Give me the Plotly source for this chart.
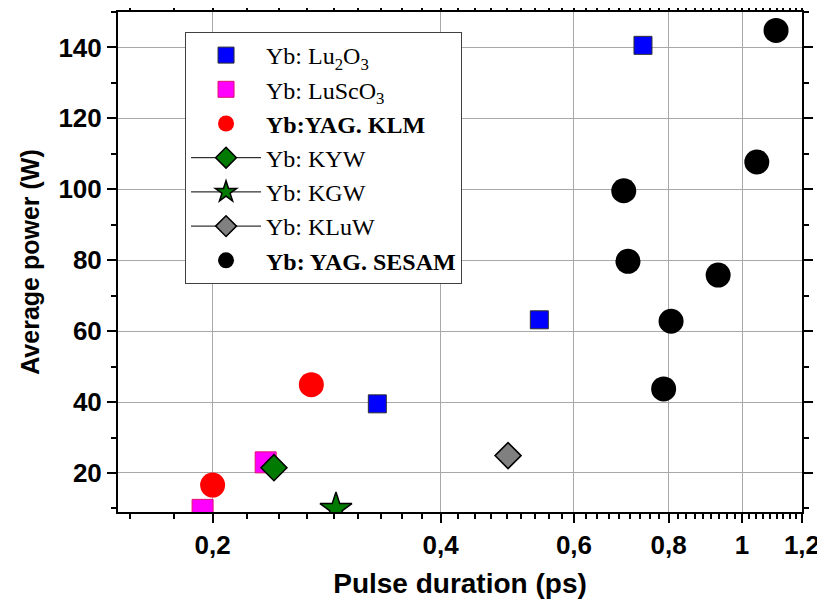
import plotly.graph_objects as go

# Data (pulse duration in ps, average power in W)
lu2o3_x = [0.33, 0.54, 0.74]
lu2o3_y = [39.5, 63.2, 140.6]

luscO3_x = [0.194, 0.235]
luscO3_y = [9.6, 23.0]

klm_x = [0.20, 0.27]
klm_y = [16.6, 44.9]

kyw_x = [0.241]
kyw_y = [21.5]

kgw_x = [0.291]
kgw_y = [9.9]

kluw_x = [0.491]
kluw_y = [24.9]

sesam_x = [0.698, 0.707, 0.788, 0.806, 0.93, 1.046, 1.109]
sesam_y = [99.6, 79.7, 43.7, 62.8, 75.8, 107.7, 144.8]

x_ticks = [0.2, 0.4, 0.6, 0.8, 1.0, 1.2]
x_ticktext = ["0,2", "0,4", "0,6", "0,8", "1", "1,2"]
y_ticks = [20, 40, 60, 80, 100, 120, 140]

# minor ticks: 8 per major interval on x, every 10 on y
step = 0.2 / 9
x_minor = [round(0.2 - k * step, 5) for k in (1, 2)]
for a in x_ticks[:-1]:
    x_minor += [round(a + k * step, 5) for k in range(1, 9)]
y_minor = list(range(10, 151, 20))

serif = "Liberation Serif"
sans = "Liberation Sans, Arial"

fig = go.Figure()

fig.add_trace(go.Scatter(
    x=lu2o3_x, y=lu2o3_y, mode="markers", name="Yb: Lu<sub>2</sub>O<sub>3</sub>",
    marker=dict(symbol="square", size=18, color="#0000ff", line=dict(color="#303030", width=1))))
fig.add_trace(go.Scatter(
    x=luscO3_x, y=luscO3_y, mode="markers", name="Yb: LuScO<sub>3</sub>",
    marker=dict(symbol="square", size=21, color="#ff00ff", line=dict(color="#e0106f", width=1))))
fig.add_trace(go.Scatter(
    x=klm_x, y=klm_y, mode="markers", name="<b>Yb:YAG. KLM</b>",
    marker=dict(symbol="circle", size=25, color="#ff0000", line=dict(width=0))))
fig.add_trace(go.Scatter(
    x=kyw_x, y=kyw_y, mode="lines+markers", name="Yb: KYW",
    line=dict(color="black", width=1),
    marker=dict(symbol="diamond", size=20, color="#007a00", line=dict(color="black", width=1.5))))
fig.add_trace(go.Scatter(
    x=kgw_x, y=kgw_y, mode="lines+markers", name="Yb: KGW",
    line=dict(color="black", width=1),
    marker=dict(symbol="star", size=24, color="#007a00", line=dict(color="black", width=1.5))))
fig.add_trace(go.Scatter(
    x=kluw_x, y=kluw_y, mode="lines+markers", name="Yb: KLuW",
    line=dict(color="black", width=1),
    marker=dict(symbol="diamond", size=20, color="#808080", line=dict(color="black", width=1.5))))
fig.add_trace(go.Scatter(
    x=sesam_x, y=sesam_y, mode="markers", name="<b>Yb: YAG. SESAM</b>",
    marker=dict(symbol="circle", size=25, color="#000000", line=dict(width=0))))

axis_common = dict(
    showline=True, linecolor="black", linewidth=2,
    ticks="outside", ticklen=9, tickwidth=2, tickcolor="black",
    mirror="allticks", showgrid=True, gridcolor="#a8a8a8", gridwidth=1,
    zeroline=False, automargin=False,
    tickfont=dict(family=sans, size=26, color="black", weight="bold"),
)

fig.update_xaxes(
    type="log", range=[-0.8239, 0.0792],
    tickvals=x_ticks, ticktext=x_ticktext,
    minor=dict(tickvals=x_minor, ticks="outside", ticklen=5, tickwidth=1.5,
               tickcolor="black", showgrid=False),
    title=dict(text="Pulse duration (ps)", standoff=14,
               font=dict(family=sans, size=28, color="black", weight="bold")),
    **axis_common)
fig.update_yaxes(
    range=[9, 150], tickvals=y_ticks,
    minor=dict(tickvals=y_minor, ticks="outside", ticklen=5, tickwidth=1.5,
               tickcolor="black", showgrid=False),
    title=dict(text="Average power (W)", standoff=12,
               font=dict(family=sans, size=25, color="black", weight="bold")),
    **axis_common)

fig.update_layout(
    width=825, height=602,
    margin=dict(l=110, r=31, t=4, b=98),
    plot_bgcolor="white", paper_bgcolor="white",
    legend=dict(
        x=0.098, y=0.96, xanchor="left", yanchor="top",
        bgcolor="white", bordercolor="#404040", borderwidth=1,
        font=dict(family=serif, size=24, color="black"),
        itemwidth=70, tracegroupgap=0,
    ),
    showlegend=True,
)

fig.write_html("out.html")
